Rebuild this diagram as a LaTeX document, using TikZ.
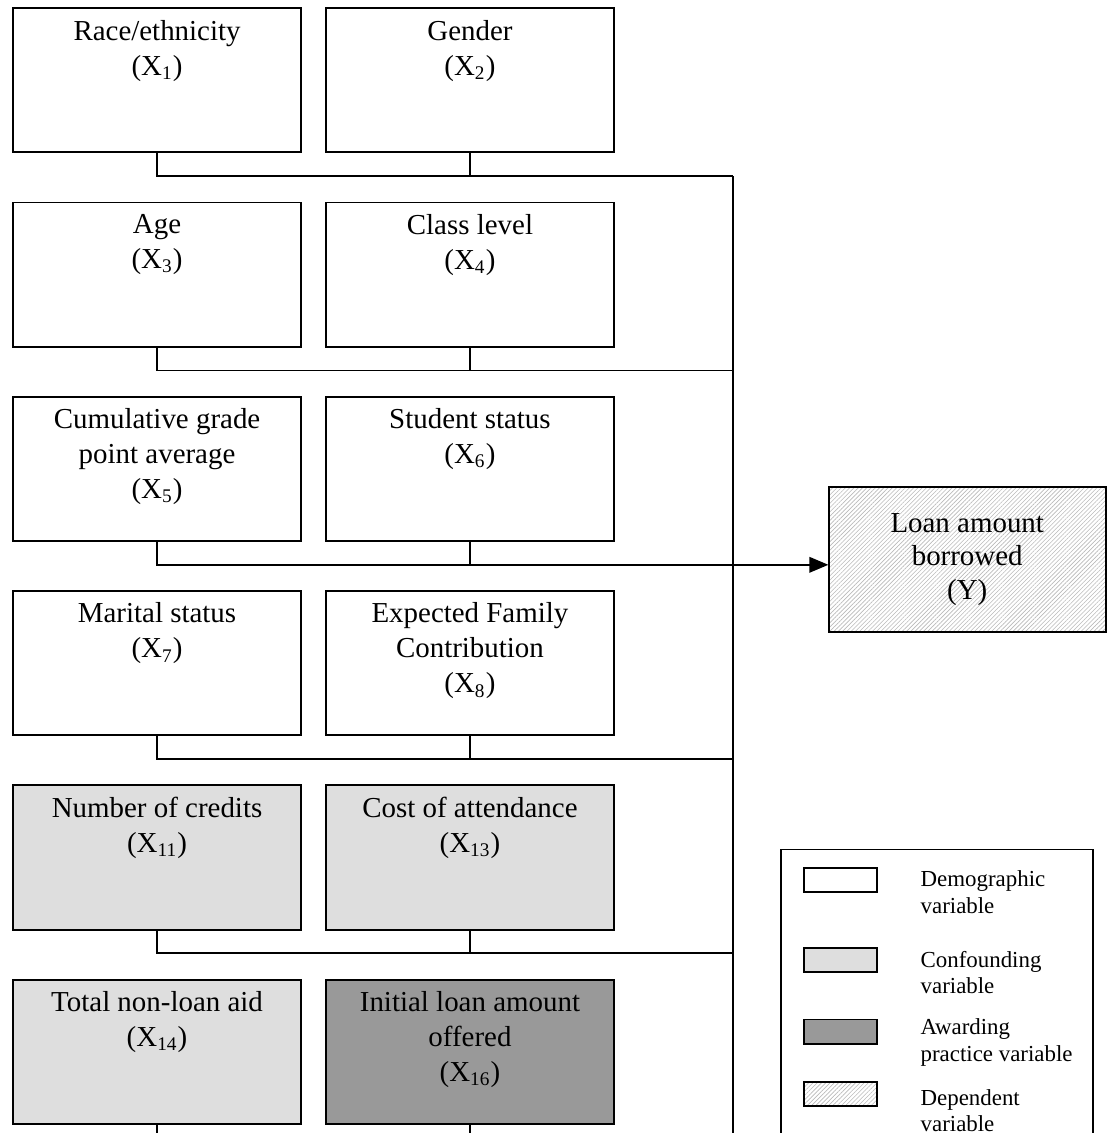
\documentclass[tikz,border=0pt]{standalone}
\usepackage{fontspec}
\setmainfont{Liberation Serif}
\usepackage{tikz}
\usetikzlibrary{shapes.geometric, arrows}
\usetikzlibrary{positioning}
\usetikzlibrary{calc}
\usetikzlibrary{patterns.meta}
\definecolor{confgray}{HTML}{DEDEDE}
\definecolor{awardgray}{HTML}{999999}
\newcommand{\vartext}[1]{\parbox[c][50pt][t]{117pt}{\centering #1}}
\newcommand{\legendfont}{\fontsize{9.5pt}{11pt}\selectfont}
\tikzstyle{demo} = [rectangle, minimum width=119.5pt, minimum height=59.8pt, inner xsep=1.25pt,
inner ysep=4.9pt, draw=black, line width=0.8pt, font=\fontsize{12pt}{14.5pt}\selectfont]
\tikzstyle{conf} = [demo, fill=confgray]
\tikzstyle{award} = [demo, fill=awardgray]
\tikzstyle{hatch} = [pattern={Lines[angle=45,distance=1.25pt,line width=0.25pt]}, pattern color=gray!55]
\tikzstyle{dep} = [rectangle, minimum width=115pt, minimum height=60pt, text centered, align=center,
draw=black, line width=0.8pt, hatch, font=\fontsize{12pt}{14pt}\selectfont]
\tikzstyle{swatch} = [rectangle, minimum width=30.3pt, minimum height=10pt, inner sep=0pt, draw=black,
line width=0.8pt]
\tikzstyle{legendtext} = [anchor=north west, inner sep=0pt, align=left, font=\legendfont]
\tikzstyle{line} = [line width=0.8pt]
\tikzstyle{arrow} = [line width=0.8pt,->,>=triangle 45]

\begin{document}
\begin{tikzpicture}[node distance=20pt and 9.5pt]
  \useasboundingbox (0,0) rectangle (459pt,-470pt);

  \node (race) [demo, anchor=north west] at (5pt,-3pt) {\vartext{Race/ethnicity\\(X\textsubscript{1})}};
  \node (gender) [demo, right=of race] {\vartext{Gender\\(X\textsubscript{2})}};
  \node (age) [demo, below=of race] {\vartext{Age\\(X\textsubscript{3})}};
  \node (class) [demo, below=of gender] {\vartext{Class level\\(X\textsubscript{4})}};
  \node (gpa) [demo, below=of age] {\vartext{Cumulative grade\\point average\\(X\textsubscript{5})}};
  \node (status) [demo, below=of class] {\vartext{Student status\\(X\textsubscript{6})}};
  \node (marital) [demo, below=of gpa] {\vartext{Marital status\\(X\textsubscript{7})}};
  \node (efc) [demo, below=of status] {\vartext{Expected Family\\Contribution\\(X\textsubscript{8})}};
  \node (credits) [conf, below=of marital] {\vartext{Number of credits\\(X\textsubscript{11})}};
  \node (cost) [conf, below=of efc] {\vartext{Cost of attendance\\(X\textsubscript{13})}};
  \node (nonloan) [conf, below=of credits] {\vartext{Total non-loan aid\\(X\textsubscript{14})}};
  \node (offered) [award, below=of cost] {\vartext{Initial loan amount\\offered\\(X\textsubscript{16})}};

  \node (loan) [dep, anchor=north west] at (343.6pt,-202pt) {Loan amount\\borrowed\\(Y)};

  \coordinate (bus) at (304pt,0);
  \coordinate (bottom) at (0,-470pt);

  % one joining line under each row
  \draw[line] (race.south) -- ++(0,-9.5pt) coordinate (r1) -- (r1 -| bus);
  \draw[line] (gender.south) -- (gender.south |- r1);
  \draw[line] (age.south) -- ++(0,-9.5pt) coordinate (r2) -- (r2 -| bus);
  \draw[line] (class.south) -- (class.south |- r2);
  \draw[arrow] (gpa.south) -- ++(0,-9.5pt) coordinate (r3) -- (r3 -| loan.west);
  \draw[line] (status.south) -- (status.south |- r3);
  \draw[line] (marital.south) -- ++(0,-9.5pt) coordinate (r4) -- (r4 -| bus);
  \draw[line] (efc.south) -- (efc.south |- r4);
  \draw[line] (credits.south) -- ++(0,-9.5pt) coordinate (r5) -- (r5 -| bus);
  \draw[line] (cost.south) -- (cost.south |- r5);
  \draw[line] (nonloan.south) -- (nonloan.south |- bottom);
  \draw[line] (offered.south) -- (offered.south |- bottom);
  \draw[line] (bus |- r1) -- (bus |- bottom);

  % legend
  \node (legend) [rectangle, draw=black, line width=0.8pt, minimum width=129.3pt, minimum height=130pt,
  anchor=north west] at (323.7pt,-352pt) {};
  \node (swdemo) [swatch, anchor=north west] at ([xshift=9.5pt, yshift=-7.5pt]legend.north west) {};
  \node (swconf) [swatch, fill=confgray, below=22.4pt of swdemo] {};
  \node (swaward) [swatch, fill=awardgray, below=19pt of swconf] {};
  \node (swdep) [swatch, hatch, below=15pt of swaward] {};
  \node (txdemo) [legendtext] at ([xshift=17.4pt, yshift=-1.6pt]swdemo.north east) {Demographic\\variable};
  \node (txconf) [legendtext] at ([xshift=17.4pt, yshift=-1.6pt]swconf.north east) {Confounding\\variable};
  \node (txaward) [legendtext] at ([xshift=17.4pt, yshift=0pt]swaward.north east) {Awarding\\practice variable};
  \node (txdep) [legendtext] at ([xshift=17.4pt, yshift=-3.3pt]swdep.north east) {Dependent\\variable};
\end{tikzpicture}
\end{document}
